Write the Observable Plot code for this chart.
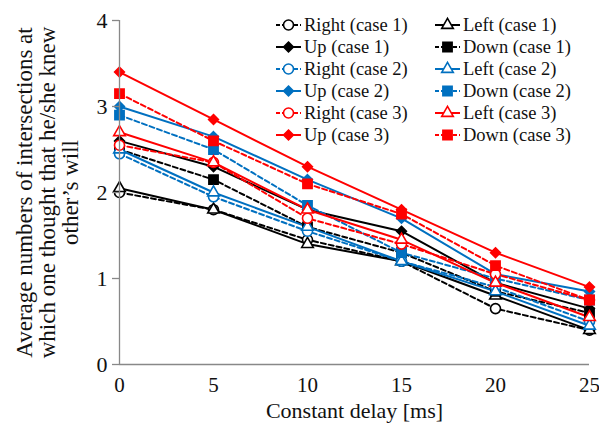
<!DOCTYPE html>
<html>
<head>
<meta charset="utf-8">
<script src="https://cdn.jsdelivr.net/npm/d3@7"></script>
<script src="https://cdn.jsdelivr.net/npm/@observablehq/plot@0.6"></script>
<style>
  html, body { margin: 0; padding: 0; background: #fff; }
  #wrap { position: relative; width: 599px; height: 428px; font-family: "Liberation Serif", "Times New Roman", serif; }
  #legend { position: absolute; left: 0; top: 0; }
</style>
</head>
<body>
<div id="wrap"></div>
<script>
const delays = [0, 5, 10, 15, 20, 25];
const yTicks = [0, 1, 2, 3, 4];
const xTicks = [0, 5, 10, 15, 20, 25];

const rightCase1 = [2.0, 1.8, 1.45, 1.2, 0.65, 0.4];
const leftCase1  = [2.05, 1.8, 1.4, 1.2, 0.8, 0.4];
const upCase1    = [2.6, 2.3, 1.8, 1.55, 0.95, 0.65];
const downCase1  = [2.5, 2.15, 1.6, 1.3, 0.85, 0.6];
const rightCase2 = [2.45, 1.95, 1.55, 1.2, 0.9, 0.5];
const leftCase2  = [2.5, 2.0, 1.6, 1.2, 0.85, 0.45];
const upCase2    = [3.0, 2.65, 2.15, 1.7, 1.05, 0.85];
const downCase2  = [2.9, 2.5, 1.85, 1.3, 1.0, 0.75];
const rightCase3 = [2.55, 2.35, 1.7, 1.4, 1.05, 0.75];
const leftCase3  = [2.7, 2.35, 1.8, 1.45, 0.95, 0.55];
const upCase3    = [3.4, 2.85, 2.3, 1.8, 1.3, 0.9];
const downCase3  = [3.15, 2.6, 2.1, 1.75, 1.15, 0.75];

const seriesNames = [
  "Right (case 1)", "Left (case 1)", "Up (case 1)", "Down (case 1)",
  "Right (case 2)", "Left (case 2)", "Up (case 2)", "Down (case 2)",
  "Right (case 3)", "Left (case 3)", "Up (case 3)", "Down (case 3)"
];
const seriesValues = [
  rightCase1, leftCase1, upCase1, downCase1,
  rightCase2, leftCase2, upCase2, downCase2,
  rightCase3, leftCase3, upCase3, downCase3
];

const caseColors = ["#000000", "#0070C0", "#FF0000"];
// per direction: Right, Left, Up, Down
const dirStyle = [
  {symbol: "circle", filled: false, dash: "5,3", r: 5},
  {symbol: "triangle", filled: false, dash: null, r: 4.3},
  {symbol: "diamond2", filled: true, dash: null, r: 4.4},
  {symbol: "square", filled: true, dash: "5,3", r: 5.2}
];

const series = seriesNames.map((name, i) => {
  const st = dirStyle[i % 4];
  const color = caseColors[Math.floor(i / 4)];
  return {name, color, ...st, data: delays.map((d, j) => ({x: d, y: seriesValues[i][j]}))};
});

const FONT = '"Liberation Serif", "Times New Roman", serif';
const marks = [];
for (const s of series) {
  marks.push(Plot.line(s.data, {x: "x", y: "y", stroke: s.color, strokeWidth: 2, strokeDasharray: s.dash || undefined}));
}
for (const s of series) {
  marks.push(Plot.dot(s.data, {x: "x", y: "y", symbol: s.symbol, r: s.r, stroke: s.color, strokeWidth: 1.6, fill: s.filled ? s.color : "white"}));
}

marks.push(Plot.axisY({ticks: yTicks, tickFormat: "d", tickSize: 7, tickPadding: 5, fontSize: 22, stroke: "#888", strokeWidth: 1.3, label: null}));
marks.push(Plot.axisX({ticks: xTicks, tickFormat: "d", tickSize: 0, tickPadding: 13, fontSize: 21, label: null}));
marks.push(Plot.ruleX([0], {stroke: "#888", strokeWidth: 1.3}));
marks.push(Plot.ruleY([0], {stroke: "#888", strokeWidth: 1.3}));
marks.push(Plot.text(["Average numbers of intersections at\nwhich one thought that he/she knew\nother\u2019s will"], {
  frameAnchor: "left", rotate: -90, dx: -72, fontSize: 23, lineHeight: 1.0, textAnchor: "middle", lineAnchor: "middle", fill: "#111"
}));
marks.push(Plot.text(["Constant delay [ms]"], {frameAnchor: "bottom", dy: 46, lineAnchor: "middle", fontSize: 22, fill: "#111"}));

const chart = Plot.plot({
  width: 599,
  height: 428,
  marginLeft: 119,
  marginRight: 10,
  marginTop: 20,
  marginBottom: 64,
  style: {fontFamily: FONT, color: "#111", background: "white", overflow: "visible"},
  x: {domain: [0, 25]},
  y: {domain: [0, 4]},
  marks
});
document.getElementById("wrap").appendChild(chart);

// Legend overlay inside plot area (top right)
const legendCols = [276, 435];
const legendTop = 25, legendStep = 22;
const svg = d3.select("#wrap").append("svg")
  .attr("id", "legend").attr("width", 599).attr("height", 428)
  .style("font-family", FONT);
const symMap = {circle: d3.symbolCircle, triangle: d3.symbolTriangle, diamond2: d3.symbolDiamond2, square: d3.symbolSquare};
series.forEach((s, i) => {
  const col = i % 2, row = Math.floor(i / 2);
  const x0 = legendCols[col], y0 = legendTop + row * legendStep;
  const g = svg.append("g").attr("transform", `translate(${x0},${y0})`);
  g.append("line").attr("x1", 0).attr("x2", 25).attr("y1", 0).attr("y2", 0)
    .attr("stroke", s.color).attr("stroke-width", 2)
    .attr("stroke-dasharray", s.dash ? "4,2" : null);
  g.append("path").attr("d", d3.symbol(symMap[s.symbol], Math.PI * s.r * s.r)())
    .attr("transform", "translate(12.5,0)")
    .attr("fill", s.filled ? s.color : "white").attr("stroke", s.color).attr("stroke-width", 1.6);
  g.append("text").attr("x", 28).attr("y", 0).attr("dy", "0.35em")
    .attr("font-size", 18.5).attr("fill", "#111").text(s.name);
});
</script>
</body>
</html>
